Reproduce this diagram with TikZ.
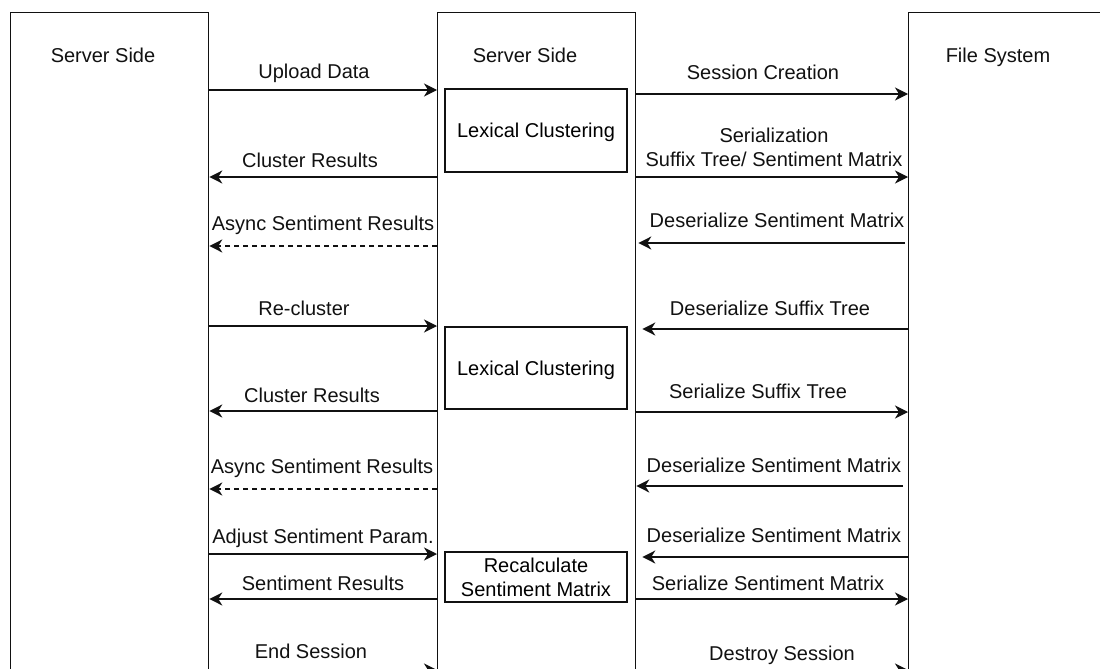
\documentclass[tikz,border=0pt]{standalone}
\usepackage{fontspec}
\setmainfont{Liberation Sans}
\usetikzlibrary{arrows.meta, positioning, calc}
\definecolor{ink}{HTML}{111111}

\tikzset{
  lifeline/.style={draw=ink, line width=0.65pt, minimum width=99pt,
    minimum height=340pt, anchor=north west, inner sep=0pt},
  taskbox/.style={draw=ink, line width=0.65pt, minimum width=91pt,
    align=center, inner sep=0pt, text depth=0pt},
  msg/.style={draw=ink, line width=0.65pt,
    -{Stealth[length=6.5pt, width=6.5pt, inset=2pt]}},
  async/.style={msg, dash pattern=on 2.5pt off 2pt},
  lbl/.style={anchor=base, inner sep=0pt, text=ink},
}

\begin{document}
\begin{tikzpicture}[x=0.5pt, y=-0.5pt, font=\fontsize{10}{12}\selectfont]
  \useasboundingbox (0,0) rectangle (1100,669);
  \clip (0,0) rectangle (1100,669);

  % the three columns
  \node[lifeline] (client) at (10,12) {};
  \node[lifeline] (server) at (437,12) {};
  \node[lifeline] (files) at (908,12) {};
  \node[lbl] (clientT) at (103,62) {Server Side};
  \node[lbl] (serverT) at (525,62) {Server Side};
  \node[lbl] (filesT) at (998,62) {File System};

  % work done on the server
  \node[taskbox, minimum height=41.5pt] (lex1) at (536,130.5) {Lexical Clustering};
  \node[taskbox, minimum height=41pt] (lex2) at (536,368) {Lexical Clustering};
  \node[taskbox, minimum height=25pt] (recalc) at (536,577)
    {Recalculate\\Sentiment Matrix};

  % client <-> server
  \draw[msg] (client.east |- 0,90) -- (server.west |- 0,90);
  \node[lbl] (upload) at (314,78) {Upload Data};
  \draw[msg] (server.west |- 0,177) -- (client.east |- 0,177);
  \node[lbl] (res1) at (310,167) {Cluster Results};
  \draw[async] (server.west |- 0,246) -- (client.east |- 0,246);
  \node[lbl] (async1) at (323,230) {Async Sentiment Results};
  \draw[msg] (client.east |- 0,326) -- (server.west |- 0,326);
  \node[lbl] (recl) at (304,315) {Re-cluster};
  \draw[msg] (server.west |- 0,411) -- (client.east |- 0,411);
  \node[lbl] (res2) at (312,402) {Cluster Results};
  \draw[async] (server.west |- 0,489) -- (client.east |- 0,489);
  \node[lbl] (async2) at (322,473) {Async Sentiment Results};
  \draw[msg] (client.east |- 0,554) -- (server.west |- 0,554);
  \node[lbl] (adjust) at (323,543) {Adjust Sentiment Param.};
  \draw[msg] (server.west |- 0,599) -- (client.east |- 0,599);
  \node[lbl] (sres) at (323,590) {Sentiment Results};
  \draw[msg] (client.east |- 0,670) -- (server.west |- 0,670);
  \node[lbl] (endS) at (311,658) {End Session};

  % server <-> file system
  \draw[msg] (server.east |- 0,94) -- (files.west |- 0,94);
  \node[lbl] (create) at (763,79) {Session Creation};
  \draw[msg] (server.east |- 0,177) -- (files.west |- 0,177);
  \node[inner sep=0pt, align=center, text=ink] (serial) at (774,147.5)
    {Serialization\\Suffix Tree/ Sentiment Matrix};
  \draw[msg, shorten <=1.5pt, shorten >=1pt] (files.west |- 0,243) -- (server.east |- 0,243);
  \node[lbl] (desm1) at (777,227) {Deserialize Sentiment Matrix};
  \draw[msg, shorten >=3pt] (files.west |- 0,329) -- (server.east |- 0,329);
  \node[lbl] (dest) at (770,315) {Deserialize Suffix Tree};
  \draw[msg] (server.east |- 0,412) -- (files.west |- 0,412);
  \node[lbl] (sest) at (758,398) {Serialize Suffix Tree};
  \draw[msg, shorten <=2.5pt] (files.west |- 0,486) -- (server.east |- 0,486);
  \node[lbl] (desm2) at (774,472) {Deserialize Sentiment Matrix};
  \draw[msg, shorten >=3pt] (files.west |- 0,557) -- (server.east |- 0,557);
  \node[lbl] (desm3) at (774,542) {Deserialize Sentiment Matrix};
  \draw[msg] (server.east |- 0,599) -- (files.west |- 0,599);
  \node[lbl] (sesm) at (768,590) {Serialize Sentiment Matrix};
  \draw[msg] (server.east |- 0,670) -- (files.west |- 0,670);
  \node[lbl] (destroy) at (782,660) {Destroy Session};
\end{tikzpicture}
\end{document}
